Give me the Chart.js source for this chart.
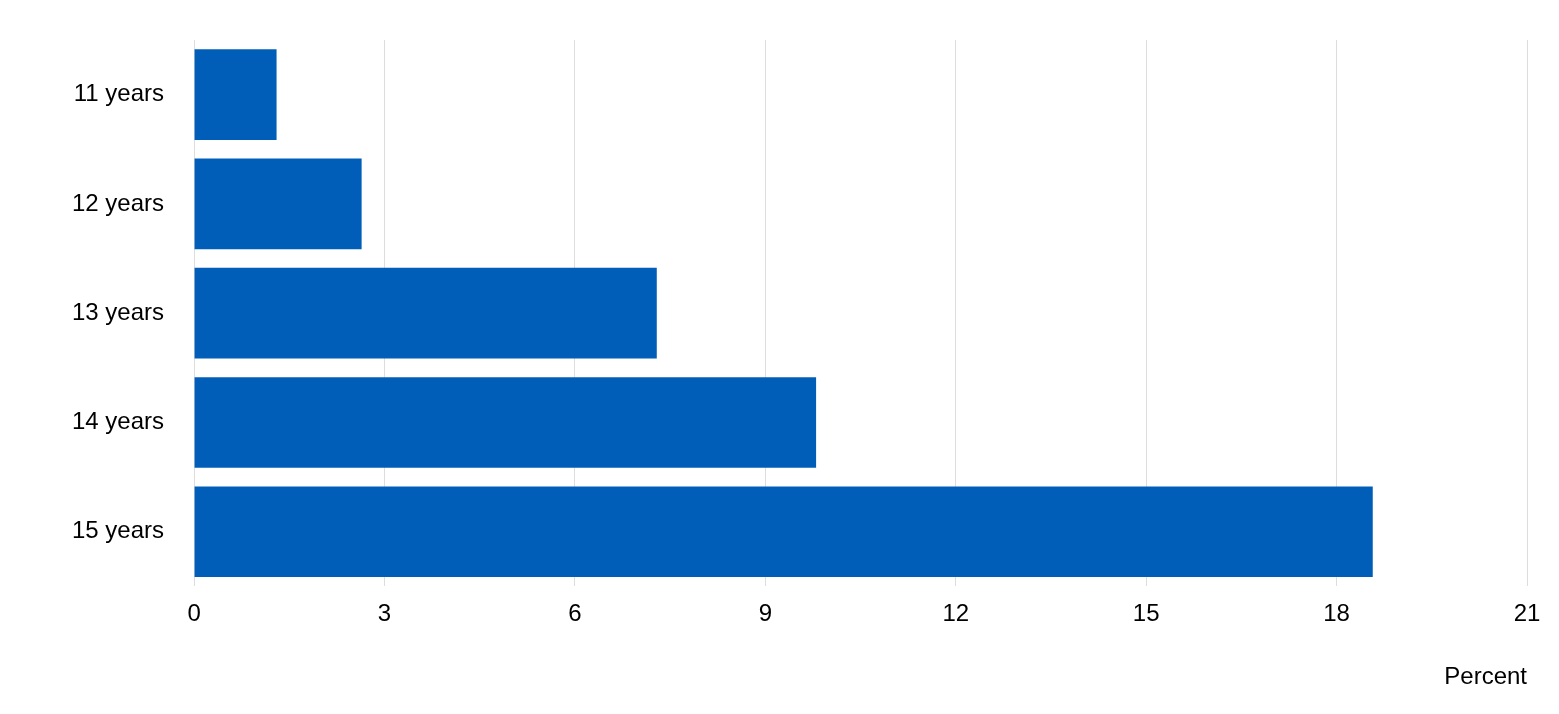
<!DOCTYPE html>
<html>
<head>
<meta charset="utf-8">
<script src="https://cdn.jsdelivr.net/npm/chart.js@4"></script>
<style>
  html, body { margin: 0; padding: 0; background: #fff; }
  #wrap { width: 1559px; height: 714px; }
</style>
</head>
<body>
<div id="wrap"><canvas id="myChart" width="1559" height="714"></canvas></div>
<script>
const categories = ['11 years', '12 years', '13 years', '14 years', '15 years'];
const percentValues = [1.3, 2.64, 7.29, 9.8, 18.57];
const xTicks = [0, 3, 6, 9, 12, 15, 18, 21];

const ctx = document.getElementById('myChart').getContext('2d');
new Chart(ctx, {
    type: 'bar',
    data: {
        labels: categories,
        datasets: [{
            data: percentValues,
            backgroundColor: '#005eb8',
            barPercentage: 0.83,
            categoryPercentage: 1
        }]
    },
    options: {
        indexAxis: 'y',
        responsive: false,
        animation: false,
        layout: { padding: { left: 50, right: 32, top: 40, bottom: 18 } },
        plugins: { legend: { display: false }, tooltip: { enabled: false } },
        scales: {
            x: {
                min: 0,
                max: 21,
                afterBuildTicks: (axis) => { axis.ticks = xTicks.map(v => ({ value: v })); },
                grid: { color: '#dddddd', drawTicks: false },
                border: { display: false },
                ticks: { color: '#000', font: { family: 'Liberation Sans', size: 24 }, padding: 14 },
                title: {
                    display: true,
                    text: 'Percent',
                    align: 'end',
                    color: '#000',
                    font: { family: 'Liberation Sans', size: 24 },
                    padding: { top: 20 }
                }
            },
            y: {
                grid: { display: false },
                border: { display: false },
                ticks: { color: '#000', font: { family: 'Liberation Sans', size: 24 }, padding: 22 }
            }
        }
    }
});
</script>
</body>
</html>
